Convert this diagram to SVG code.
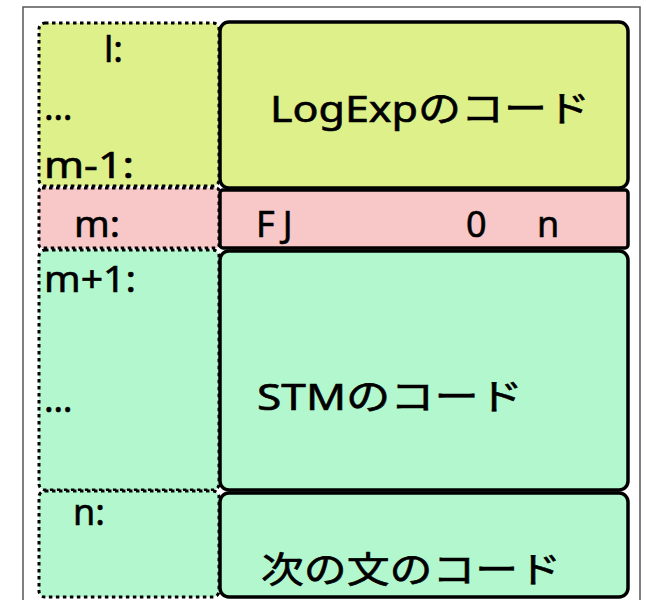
<svg xmlns="http://www.w3.org/2000/svg" width="646" height="600" viewBox="0 0 646 600">
<style>
.frame{fill:#fff;stroke:#555;stroke-width:1.5}
.lbl{stroke:#000;stroke-width:3;stroke-dasharray:3.5 3.5}
.code{stroke:#000;stroke-width:3.5}
.y{fill:#DDF08A}.p{fill:#F8C8C8}.g{fill:#B2F7CE}
text{font-family:"Noto Sans","Noto Sans CJK JP",sans-serif;font-size:36px;fill:#000;stroke:#000;stroke-width:0.6}
</style>
<rect class="frame" x="23" y="7" width="617" height="600"/>
<g id="row-logexp">
<rect class="lbl y" x="39" y="23" width="180" height="163" rx="6"/>
<rect class="code y" x="220" y="22" width="408" height="166" rx="9"/>
<text x="104" y="62">l:</text>
<text x="44" y="120">…</text>
<text x="44" y="178" textLength="90" lengthAdjust="spacingAndGlyphs">m-1:</text>
<text x="270" y="122" textLength="320" lengthAdjust="spacingAndGlyphs">LogExpのコード</text>
</g>
<g id="row-fj">
<rect class="lbl p" x="39" y="188" width="180" height="60" rx="3"/>
<rect class="code p" x="220" y="190" width="408" height="58" rx="3"/>
<text x="74" y="237" textLength="46" lengthAdjust="spacingAndGlyphs">m:</text>
<text x="256" y="237" letter-spacing="8">FJ</text>
<text x="466" y="237">0</text>
<text x="537" y="237">n</text>
</g>
<g id="row-stm">
<rect class="lbl g" x="39" y="250" width="180" height="240" rx="6"/>
<rect class="code g" x="220" y="251" width="408" height="239" rx="9"/>
<text x="44" y="292" textLength="92" lengthAdjust="spacingAndGlyphs">m+1:</text>
<text x="44" y="412">…</text>
<text x="257" y="410" textLength="266" lengthAdjust="spacingAndGlyphs">STMのコード</text>
</g>
<g id="row-next">
<rect class="lbl g" x="39" y="491" width="180" height="106" rx="6"/>
<rect class="code g" x="220" y="493" width="408" height="104" rx="9"/>
<text x="73" y="525">n:</text>
<text x="261" y="583" textLength="300" lengthAdjust="spacingAndGlyphs">次の文のコード</text>
</g>
<g id="connectors"></g>
</svg>
